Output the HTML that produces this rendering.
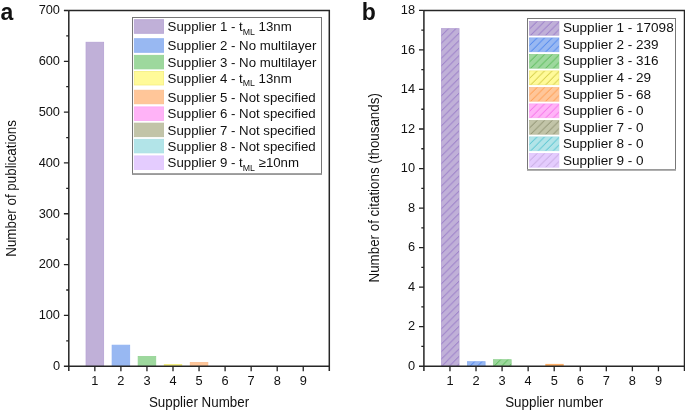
<!DOCTYPE html>
<html><head><meta charset="utf-8"><title>Supplier publications and citations</title><style>
html,body{margin:0;padding:0;background:#fff;width:685px;height:411px;overflow:hidden}
svg{display:block;will-change:transform}
text{font-family:"Liberation Sans", sans-serif;font-size:12.5px;fill:#111}
.tk{font-size:12.8px}
.ti{font-size:13.9px}
</style></head><body>
<svg width="685" height="411" viewBox="0 0 685 411">
<defs>
<pattern id="p1" patternUnits="userSpaceOnUse" x="441.06" y="28.23" width="7.52" height="7.52"><path d="M-1,1.30 L1.30,-1 M-1,8.82 L8.82,-1 M-1,16.34 L16.34,-1" stroke="#8866c2" stroke-width="0.85" fill="none"/></pattern>
<pattern id="p2" patternUnits="userSpaceOnUse" x="467.12" y="361.28" width="7.52" height="7.52"><path d="M-1,1.30 L1.30,-1 M-1,8.82 L8.82,-1 M-1,16.34 L16.34,-1" stroke="#3272ec" stroke-width="0.85" fill="none"/></pattern>
<pattern id="p3" patternUnits="userSpaceOnUse" x="493.18" y="359.26" width="7.52" height="7.52"><path d="M-1,1.30 L1.30,-1 M-1,8.82 L8.82,-1 M-1,16.34 L16.34,-1" stroke="#42b042" stroke-width="0.85" fill="none"/></pattern>
<pattern id="p4" patternUnits="userSpaceOnUse" x="529.20" y="21.00" width="7.52" height="7.52"><path d="M-1,1.70 L1.70,-1 M-1,9.22 L9.22,-1 M-1,16.74 L16.74,-1" stroke="#8866c2" stroke-width="0.85" fill="none"/></pattern>
<pattern id="p5" patternUnits="userSpaceOnUse" x="529.20" y="37.50" width="7.52" height="7.52"><path d="M-1,1.70 L1.70,-1 M-1,9.22 L9.22,-1 M-1,16.74 L16.74,-1" stroke="#3272ec" stroke-width="0.85" fill="none"/></pattern>
<pattern id="p6" patternUnits="userSpaceOnUse" x="529.20" y="54.00" width="7.52" height="7.52"><path d="M-1,1.70 L1.70,-1 M-1,9.22 L9.22,-1 M-1,16.74 L16.74,-1" stroke="#42b042" stroke-width="0.85" fill="none"/></pattern>
<pattern id="p7" patternUnits="userSpaceOnUse" x="529.20" y="70.50" width="7.52" height="7.52"><path d="M-1,1.70 L1.70,-1 M-1,9.22 L9.22,-1 M-1,16.74 L16.74,-1" stroke="#c0b824" stroke-width="0.85" fill="none"/></pattern>
<pattern id="p8" patternUnits="userSpaceOnUse" x="529.20" y="87.00" width="7.52" height="7.52"><path d="M-1,1.70 L1.70,-1 M-1,9.22 L9.22,-1 M-1,16.74 L16.74,-1" stroke="#ff8e34" stroke-width="0.85" fill="none"/></pattern>
<pattern id="p9" patternUnits="userSpaceOnUse" x="529.20" y="103.50" width="7.52" height="7.52"><path d="M-1,1.70 L1.70,-1 M-1,9.22 L9.22,-1 M-1,16.74 L16.74,-1" stroke="#f256e2" stroke-width="0.85" fill="none"/></pattern>
<pattern id="p10" patternUnits="userSpaceOnUse" x="529.20" y="120.00" width="7.52" height="7.52"><path d="M-1,1.70 L1.70,-1 M-1,9.22 L9.22,-1 M-1,16.74 L16.74,-1" stroke="#7c7e5e" stroke-width="0.85" fill="none"/></pattern>
<pattern id="p11" patternUnits="userSpaceOnUse" x="529.20" y="136.50" width="7.52" height="7.52"><path d="M-1,1.70 L1.70,-1 M-1,9.22 L9.22,-1 M-1,16.74 L16.74,-1" stroke="#34b8c8" stroke-width="0.85" fill="none"/></pattern>
<pattern id="p12" patternUnits="userSpaceOnUse" x="529.20" y="153.00" width="7.52" height="7.52"><path d="M-1,1.70 L1.70,-1 M-1,9.22 L9.22,-1 M-1,16.74 L16.74,-1" stroke="#b99cd4" stroke-width="0.85" fill="none"/></pattern>
</defs>
<rect x="86.05" y="42.25" width="17.60" height="323.55" fill="#c0b0d8" stroke="#b6a3d4" stroke-width="0.8"/>
<rect x="112.10" y="345.16" width="17.60" height="20.64" fill="#98b8f2" stroke="#8eb0f1" stroke-width="0.8"/>
<rect x="138.15" y="356.39" width="17.60" height="9.41" fill="#9dd89d" stroke="#94d394" stroke-width="0.8"/>
<rect x="163.80" y="364.01" width="18.40" height="2.19" fill="#f4ee80"/>
<rect x="190.25" y="362.48" width="17.60" height="3.32" fill="#ffc699" stroke="#fbbe90" stroke-width="0.8"/>
<path d="M68.8,10.5 H329.3 V371.0 M68.8,371.0 V10.5 M63.9,366.2 H329.3" stroke="#262626" stroke-width="1.5" fill="none"/>
<path d="M66.20,340.79 H68.8 M63.90,315.39 H68.8 M66.20,289.98 H68.8 M63.90,264.57 H68.8 M66.20,239.16 H68.8 M63.90,213.76 H68.8 M66.20,188.35 H68.8 M63.90,162.94 H68.8 M66.20,137.54 H68.8 M63.90,112.13 H68.8 M66.20,86.72 H68.8 M63.90,61.31 H68.8 M66.20,35.91 H68.8 M63.90,10.50 H68.8" stroke="#222" stroke-width="1.3" fill="none"/>
<path d="M94.85,366.2 V371.2 M120.90,366.2 V371.2 M146.95,366.2 V371.2 M173.00,366.2 V371.2 M199.05,366.2 V371.2 M225.10,366.2 V371.2 M251.15,366.2 V371.2 M277.20,366.2 V371.2 M303.25,366.2 V371.2" stroke="#222" stroke-width="1.3" fill="none"/>
<text x="60.00" y="370.00" text-anchor="end" class="tk">0</text>
<text x="60.00" y="319.19" text-anchor="end" class="tk">100</text>
<text x="60.00" y="268.37" text-anchor="end" class="tk">200</text>
<text x="60.00" y="217.56" text-anchor="end" class="tk">300</text>
<text x="60.00" y="166.74" text-anchor="end" class="tk">400</text>
<text x="60.00" y="115.93" text-anchor="end" class="tk">500</text>
<text x="60.00" y="65.11" text-anchor="end" class="tk">600</text>
<text x="60.00" y="14.30" text-anchor="end" class="tk">700</text>
<text x="94.85" y="385.20" text-anchor="middle" class="tk">1</text>
<text x="120.90" y="385.20" text-anchor="middle" class="tk">2</text>
<text x="146.95" y="385.20" text-anchor="middle" class="tk">3</text>
<text x="173.00" y="385.20" text-anchor="middle" class="tk">4</text>
<text x="199.05" y="385.20" text-anchor="middle" class="tk">5</text>
<text x="225.10" y="385.20" text-anchor="middle" class="tk">6</text>
<text x="251.15" y="385.20" text-anchor="middle" class="tk">7</text>
<text x="277.20" y="385.20" text-anchor="middle" class="tk">8</text>
<text x="303.25" y="385.20" text-anchor="middle" class="tk">9</text>
<rect x="441.46" y="28.63" width="17.60" height="337.17" fill="#c0b0d8" stroke="#b6a3d4" stroke-width="0.8"/>
<rect x="441.46" y="28.63" width="17.60" height="337.17" fill="url(#p1)"/>
<rect x="467.52" y="361.68" width="17.60" height="4.12" fill="#98b8f2" stroke="#8eb0f1" stroke-width="0.8"/>
<rect x="467.52" y="361.68" width="17.60" height="4.12" fill="url(#p2)"/>
<rect x="493.58" y="359.66" width="17.60" height="6.14" fill="#9dd89d" stroke="#94d394" stroke-width="0.8"/>
<rect x="493.58" y="359.66" width="17.60" height="6.14" fill="url(#p3)"/>
<rect x="545.30" y="363.90" width="18.40" height="2.3" fill="#ffb068"/>
<path d="M423.9,10.4 H684.5 V371.0 M423.9,371.0 V10.4 M419.0,366.2 H684.5" stroke="#262626" stroke-width="1.5" fill="none"/>
<path d="M421.30,346.43 H423.9 M419.00,326.67 H423.9 M421.30,306.90 H423.9 M419.00,287.13 H423.9 M421.30,267.37 H423.9 M419.00,247.60 H423.9 M421.30,227.83 H423.9 M419.00,208.07 H423.9 M421.30,188.30 H423.9 M419.00,168.53 H423.9 M421.30,148.77 H423.9 M419.00,129.00 H423.9 M421.30,109.23 H423.9 M419.00,89.47 H423.9 M421.30,69.70 H423.9 M419.00,49.93 H423.9 M421.30,30.17 H423.9 M419.00,10.40 H423.9" stroke="#222" stroke-width="1.3" fill="none"/>
<path d="M449.96,366.2 V371.2 M476.02,366.2 V371.2 M502.08,366.2 V371.2 M528.14,366.2 V371.2 M554.20,366.2 V371.2 M580.26,366.2 V371.2 M606.32,366.2 V371.2 M632.38,366.2 V371.2 M658.44,366.2 V371.2" stroke="#222" stroke-width="1.3" fill="none"/>
<text x="415.10" y="370.00" text-anchor="end" class="tk">0</text>
<text x="415.10" y="330.47" text-anchor="end" class="tk">2</text>
<text x="415.10" y="290.93" text-anchor="end" class="tk">4</text>
<text x="415.10" y="251.40" text-anchor="end" class="tk">6</text>
<text x="415.10" y="211.87" text-anchor="end" class="tk">8</text>
<text x="415.10" y="172.33" text-anchor="end" class="tk">10</text>
<text x="415.10" y="132.80" text-anchor="end" class="tk">12</text>
<text x="415.10" y="93.27" text-anchor="end" class="tk">14</text>
<text x="415.10" y="53.73" text-anchor="end" class="tk">16</text>
<text x="415.10" y="14.20" text-anchor="end" class="tk">18</text>
<text x="449.96" y="385.20" text-anchor="middle" class="tk">1</text>
<text x="476.02" y="385.20" text-anchor="middle" class="tk">2</text>
<text x="502.08" y="385.20" text-anchor="middle" class="tk">3</text>
<text x="528.14" y="385.20" text-anchor="middle" class="tk">4</text>
<text x="554.20" y="385.20" text-anchor="middle" class="tk">5</text>
<text x="580.26" y="385.20" text-anchor="middle" class="tk">6</text>
<text x="606.32" y="385.20" text-anchor="middle" class="tk">7</text>
<text x="632.38" y="385.20" text-anchor="middle" class="tk">8</text>
<text x="658.44" y="385.20" text-anchor="middle" class="tk">9</text>
<rect x="132.50" y="17.50" width="189.00" height="156.40" fill="#fff" stroke="#777" stroke-width="1"/>
<path d="M132.00,174.20 H322.00" stroke="#9a9a9a" stroke-width="1.6"/>
<rect x="134.30" y="19.70" width="29.30" height="13.60" fill="#c0b0d8" stroke="#b6a3d4" stroke-width="0.8"/>
<text transform="translate(167.60,31.10) scale(1.02,1)" style="font-size:13.0px">Supplier 1 - t<tspan font-size="8.6" dy="3.4">ML</tspan><tspan dy="-3.4"> 13nm</tspan></text>
<rect x="134.30" y="38.70" width="29.30" height="13.60" fill="#98b8f2" stroke="#8eb0f1" stroke-width="0.8"/>
<text transform="translate(167.60,50.10) scale(1.02,1)" style="font-size:13.0px">Supplier 2 - No multilayer</text>
<rect x="134.30" y="55.30" width="29.30" height="13.60" fill="#9dd89d" stroke="#94d394" stroke-width="0.8"/>
<text transform="translate(167.60,66.70) scale(1.02,1)" style="font-size:13.0px">Supplier 3 - No multilayer</text>
<rect x="134.30" y="71.40" width="29.30" height="13.60" fill="#fffa99" stroke="#f4ee80" stroke-width="0.8"/>
<text transform="translate(167.60,82.80) scale(1.02,1)" style="font-size:13.0px">Supplier 4 - t<tspan font-size="8.6" dy="3.4">ML</tspan><tspan dy="-3.4"> 13nm</tspan></text>
<rect x="134.30" y="90.20" width="29.30" height="13.60" fill="#ffc699" stroke="#fbbe90" stroke-width="0.8"/>
<text transform="translate(167.60,101.60) scale(1.02,1)" style="font-size:13.0px">Supplier 5 - Not specified</text>
<rect x="134.30" y="106.90" width="29.30" height="13.60" fill="#ffb3f7" stroke="#fba9f3" stroke-width="0.8"/>
<text transform="translate(167.60,118.30) scale(1.02,1)" style="font-size:13.0px">Supplier 6 - Not specified</text>
<rect x="134.30" y="123.10" width="29.30" height="13.60" fill="#c2c4a8" stroke="#bbbda0" stroke-width="0.8"/>
<text transform="translate(167.60,134.50) scale(1.02,1)" style="font-size:13.0px">Supplier 7 - Not specified</text>
<rect x="134.30" y="139.30" width="29.30" height="13.60" fill="#b2e4e8" stroke="#a9e0e5" stroke-width="0.8"/>
<text transform="translate(167.60,150.70) scale(1.02,1)" style="font-size:13.0px">Supplier 8 - Not specified</text>
<rect x="134.30" y="155.90" width="29.30" height="13.60" fill="#e4ccfe" stroke="#e0c6fd" stroke-width="0.8"/>
<text transform="translate(167.60,167.30) scale(1.02,1)" style="font-size:13.0px">Supplier 9 - t<tspan font-size="8.6" dy="3.4">ML</tspan><tspan dy="-3.4"> ≥10nm</tspan></text>
<rect x="527.50" y="18.50" width="148.00" height="151.10" fill="#fff" stroke="#777" stroke-width="1"/>
<path d="M527.00,169.90 H676.00" stroke="#9a9a9a" stroke-width="1.6"/>
<rect x="529.60" y="21.40" width="29.30" height="13.80" fill="#c0b0d8" stroke="#b6a3d4" stroke-width="0.8"/>
<rect x="529.60" y="21.40" width="29.30" height="13.80" fill="url(#p4)"/>
<text transform="translate(563.00,32.10) scale(1.043,1)" style="font-size:13.0px">Supplier 1 - 17098</text>
<rect x="529.60" y="37.90" width="29.30" height="13.80" fill="#98b8f2" stroke="#8eb0f1" stroke-width="0.8"/>
<rect x="529.60" y="37.90" width="29.30" height="13.80" fill="url(#p5)"/>
<text transform="translate(563.00,48.70) scale(1.043,1)" style="font-size:13.0px">Supplier 2 - 239</text>
<rect x="529.60" y="54.40" width="29.30" height="13.80" fill="#9dd89d" stroke="#94d394" stroke-width="0.8"/>
<rect x="529.60" y="54.40" width="29.30" height="13.80" fill="url(#p6)"/>
<text transform="translate(563.00,65.30) scale(1.043,1)" style="font-size:13.0px">Supplier 3 - 316</text>
<rect x="529.60" y="70.90" width="29.30" height="13.80" fill="#fffa99" stroke="#f4ee80" stroke-width="0.8"/>
<rect x="529.60" y="70.90" width="29.30" height="13.80" fill="url(#p7)"/>
<text transform="translate(563.00,81.90) scale(1.043,1)" style="font-size:13.0px">Supplier 4 - 29</text>
<rect x="529.60" y="87.40" width="29.30" height="13.80" fill="#ffc699" stroke="#fbbe90" stroke-width="0.8"/>
<rect x="529.60" y="87.40" width="29.30" height="13.80" fill="url(#p8)"/>
<text transform="translate(563.00,98.50) scale(1.043,1)" style="font-size:13.0px">Supplier 5 - 68</text>
<rect x="529.60" y="103.90" width="29.30" height="13.80" fill="#ffb3f7" stroke="#fba9f3" stroke-width="0.8"/>
<rect x="529.60" y="103.90" width="29.30" height="13.80" fill="url(#p9)"/>
<text transform="translate(563.00,115.10) scale(1.043,1)" style="font-size:13.0px">Supplier 6 - 0</text>
<rect x="529.60" y="120.40" width="29.30" height="13.80" fill="#c2c4a8" stroke="#bbbda0" stroke-width="0.8"/>
<rect x="529.60" y="120.40" width="29.30" height="13.80" fill="url(#p10)"/>
<text transform="translate(563.00,131.70) scale(1.043,1)" style="font-size:13.0px">Supplier 7 - 0</text>
<rect x="529.60" y="136.90" width="29.30" height="13.80" fill="#b2e4e8" stroke="#a9e0e5" stroke-width="0.8"/>
<rect x="529.60" y="136.90" width="29.30" height="13.80" fill="url(#p11)"/>
<text transform="translate(563.00,148.30) scale(1.043,1)" style="font-size:13.0px">Supplier 8 - 0</text>
<rect x="529.60" y="153.40" width="29.30" height="13.80" fill="#e4ccfe" stroke="#e0c6fd" stroke-width="0.8"/>
<rect x="529.60" y="153.40" width="29.30" height="13.80" fill="url(#p12)"/>
<text transform="translate(563.00,164.90) scale(1.043,1)" style="font-size:13.0px">Supplier 9 - 0</text>
<text x="0.4" y="19.8" style="font-size:23px;font-weight:bold">a</text>
<text x="361.7" y="19.6" style="font-size:23px;font-weight:bold">b</text>
<text transform="translate(199,407.2) scale(0.962,1)" text-anchor="middle" class="ti">Supplier Number</text>
<text transform="translate(554.2,407.2) scale(0.962,1)" text-anchor="middle" class="ti">Supplier number</text>
<text transform="translate(15.9,188.4) rotate(-90) scale(0.962,1)" text-anchor="middle" class="ti">Number of publications</text>
<text transform="translate(379.1,187.8) rotate(-90) scale(0.962,1)" text-anchor="middle" class="ti">Number of citations (thousands)</text>
</svg>
</body></html>
